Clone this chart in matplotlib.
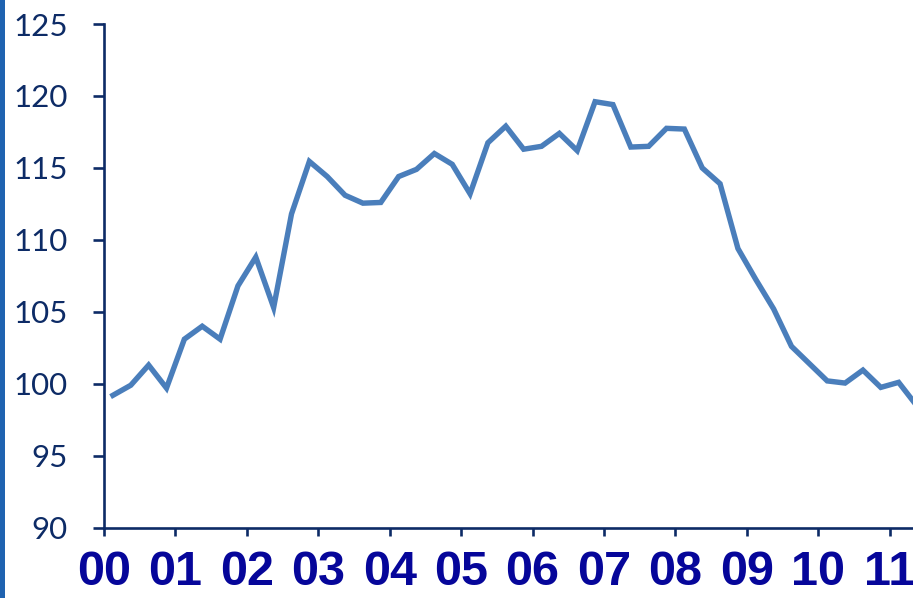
import matplotlib
matplotlib.use("Agg")
import matplotlib.pyplot as plt
from matplotlib.patches import Rectangle
import numpy as np

# Quarterly index, 2000Q1 .. 2011Q2
start_year = 2000
values = [99.2, 99.9, 101.3, 99.7,
          103.1, 104.0, 103.1, 106.8,
          108.8, 105.3, 111.8, 115.45,
          114.4, 113.1, 112.55, 112.6,
          114.4, 114.9, 116.0, 115.25,
          113.2, 116.75, 117.9, 116.3,
          116.5, 117.4, 116.2, 119.6,
          119.4, 116.45, 116.5, 117.75,
          117.7, 115.0, 113.9, 109.4,
          107.25, 105.2, 102.6, 101.4,
          100.2, 100.05, 100.95, 99.75,
          100.1, 98.5]
year_labels = ["00", "01", "02", "03", "04", "05", "06", "07", "08", "09", "10", "11"]
y_ticks = [90, 95, 100, 105, 110, 115, 120, 125]

x = (np.arange(len(values)) + 0.5) / 4.0  # mid-quarter, in years since 2000

fig = plt.figure(figsize=(9.13, 5.98), dpi=100)
ax = fig.add_axes([104/913, (598-527.7)/598, 1 - 104/913, (527.7-24)/598])

ax.plot(x, values, color="#4A7EBB", linewidth=3.9, solid_joinstyle="miter")

ax.set_xlim(0, 11.326)
ax.set_ylim(90, 125)

navy = "#0D2B66"
for s in ["top", "right"]:
    ax.spines[s].set_visible(False)
for s in ["left", "bottom"]:
    ax.spines[s].set_color(navy)
    ax.spines[s].set_linewidth(1.9)

ax.set_yticks(y_ticks)
ax.set_yticklabels([str(v) for v in y_ticks], family=["Lato", "DejaVu Sans"],
                   fontsize=22.5, color=navy)
ax.tick_params(axis="y", direction="out", length=8, width=1.9, color=navy, pad=18)

ax.set_xticks(range(len(year_labels)))
ax.set_xticklabels(year_labels, family=["Liberation Sans", "DejaVu Sans"],
                   fontsize=35, fontweight="bold", color="#06069A")
ax.tick_params(axis="x", direction="out", length=6, width=1.9, color=navy, pad=10)

# blue bar on the left edge
fig.patches.append(Rectangle((0, 0), 5/913, 1, transform=fig.transFigure,
                             facecolor="#1F63B0", edgecolor="none"))

fig.savefig("out.png", dpi=100)
